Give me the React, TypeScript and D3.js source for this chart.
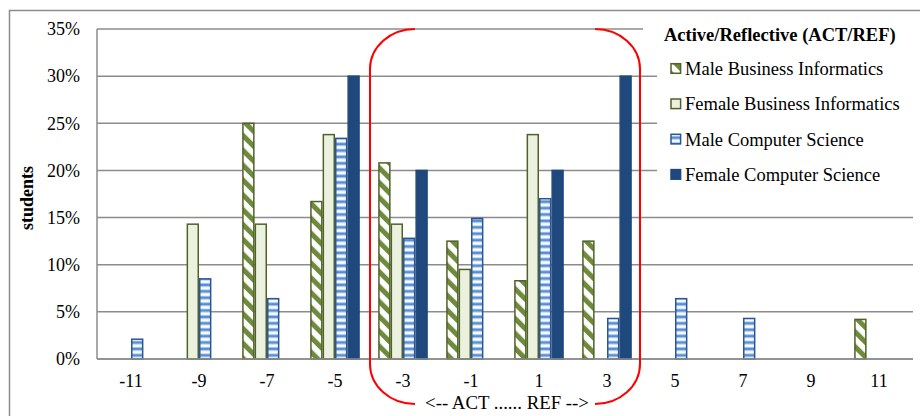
import React from "react";
import * as d3 from "d3";

const categories = ["-11", "-9", "-7", "-5", "-3", "-1", "1", "3", "5", "7", "9", "11"];
const seriesNames = [
  "Male Business Informatics",
  "Female Business Informatics",
  "Male Computer Science",
  "Female Computer Science",
];
const maleBI = [0, 0, 25.0, 16.7, 20.8, 12.5, 8.3, 12.5, 0, 0, 0, 4.2];
const femaleBI = [0, 14.3, 14.3, 23.8, 14.3, 9.5, 23.8, 0, 0, 0, 0, 0];
const maleCS = [2.1, 8.5, 6.4, 23.4, 12.8, 14.9, 17.0, 4.3, 6.4, 4.3, 0, 0];
const femaleCS = [0, 0, 0, 30.0, 20.0, 0, 20.0, 30.0, 0, 0, 0, 0];
const yTicks = [0, 5, 10, 15, 20, 25, 30, 35];
const legendTitle = "Active/Reflective (ACT/REF)";
const yTitle = "students";
const xTitle = "<-- ACT ...... REF -->";

const seriesValues = [maleBI, femaleBI, maleCS, femaleCS];

const W = 920;
const H = 416;
const left = 97;
const right = 913;
const top = 29;
const bottom = 359;
const font = "'Liberation Serif', 'Times New Roman', serif";
const grid = "#8c8c8c";

const fills = ["url(#pMBI)", "#EBF1DE", "url(#pMCS)", "#1F497D"];
const strokes = ["#4F6228", "#4F6228", "#2A5595", "#1F497D"];

export default function App() {
  const x = d3.scaleBand<string>().domain(categories).range([left, right]).paddingInner(0.27).paddingOuter(0.135);
  const xs = d3.scaleBand<string>().domain(seriesNames).range([0, x.bandwidth()]);
  const y = d3.scaleLinear().domain([0, 35]).range([bottom, top]);

  const bars: React.ReactNode[] = [];
  seriesValues.forEach((vals, si) => {
    vals.forEach((v, ci) => {
      if (!v) return;
      const bx = (x(categories[ci]) as number) + (xs(seriesNames[si]) as number);
      const by = y(v);
      bars.push(
        <rect
          key={`${si}-${ci}`}
          x={bx + 0.75}
          y={by}
          width={xs.bandwidth() - 1.5}
          height={bottom - by}
          fill={fills[si]}
          stroke={strokes[si]}
          strokeWidth={1.5}
        />
      );
    });
  });

  // red brackets around categories -3..3
  const lx = 370, rx = 640, t = 29, b = 404, crx = 45, cry = 40;
  const leftBracket = `M${lx + crx},${t} A${crx},${cry} 0 0 0 ${lx},${t + cry} L${lx},${b - cry} A${crx},${cry} 0 0 0 ${lx + crx},${b}`;
  const rightBracket = `M${rx - crx},${t} A${crx},${cry} 0 0 1 ${rx},${t + cry} L${rx},${b - cry} A${crx},${cry} 0 0 1 ${rx - crx},${b}`;

  return (
    <svg width={W} height={H} style={{ position: "absolute", left: 0, top: 0, background: "#fff" }} fontFamily={font}>
      <defs>
        <pattern id="pMBI" patternUnits="userSpaceOnUse" width={10.5} height={10.5} patternTransform="rotate(-45)">
          <rect width={10.5} height={10.5} fill="#fff" />
          <rect x={0} y={0} width={5} height={10.5} fill="#6E8B3D" />
        </pattern>
        <pattern id="pMCS" patternUnits="userSpaceOnUse" width={6} height={6.4} y={bottom}>
          <rect width={6} height={6.4} fill="#fff" />
          <rect x={0} y={0.8} width={6} height={1} fill="#9CBDE8" />
          <rect x={0} y={1.8} width={6} height={2} fill="#558ED5" />
          <rect x={0} y={3.8} width={6} height={1} fill="#9CBDE8" />
        </pattern>
      </defs>
      <rect x={9.5} y={10.5} width={W} height={H} fill="#fff" stroke={grid} strokeWidth={1.5} />
      {yTicks.map((tv) => (
        <g key={tv}>
          <line x1={left} x2={right} y1={y(tv)} y2={y(tv)} stroke={grid} strokeWidth={1.5} />
          <text x={80} y={y(tv)} dy="0.35em" textAnchor="end" fontSize={18}>
            {tv}%
          </text>
        </g>
      ))}
      {bars}
      <line x1={left} x2={left} y1={top} y2={bottom} stroke={grid} strokeWidth={1.5} />
      <line x1={left} x2={right} y1={bottom} y2={bottom} stroke={grid} strokeWidth={1.5} />
      {categories.map((c) => (
        <text key={c} x={(x(c) as number) + x.bandwidth() / 2} y={381} dy="0.35em" textAnchor="middle" fontSize={18}>
          {c}
        </text>
      ))}
      <text
        transform={`translate(27,198) rotate(-90)`}
        textAnchor="middle"
        dy="0.35em"
        fontWeight="bold"
        fontSize={18}
      >
        {yTitle}
      </text>
      <path d={leftBracket} fill="none" stroke="#FF0000" strokeWidth={2} />
      <path d={rightBracket} fill="none" stroke="#FF0000" strokeWidth={2} />
      <text x={507} y={402} dy="0.35em" textAnchor="middle" fontSize={18.8}>
        {xTitle}
      </text>
      <rect x={643} y={16} width={270} height={34} fill="#fff" />
      <rect x={657} y={48} width={256} height={158} fill="#fff" />
      <text x={664} y={35} dy="0.35em" fontWeight="bold" fontSize={18.5}>
        {legendTitle}
      </text>
      {seriesNames.map((s, i) => {
        const cy = 68.5 + i * 35.3;
        return (
          <g key={s}>
            <rect x={671} y={cy - 4.8} width={9.6} height={9.6} fill={fills[i]} stroke={strokes[i]} strokeWidth={1.5} />
            <text x={685} y={cy} dy="0.35em" fontSize={18.5}>
              {s}
            </text>
          </g>
        );
      })}
    </svg>
  );
}
